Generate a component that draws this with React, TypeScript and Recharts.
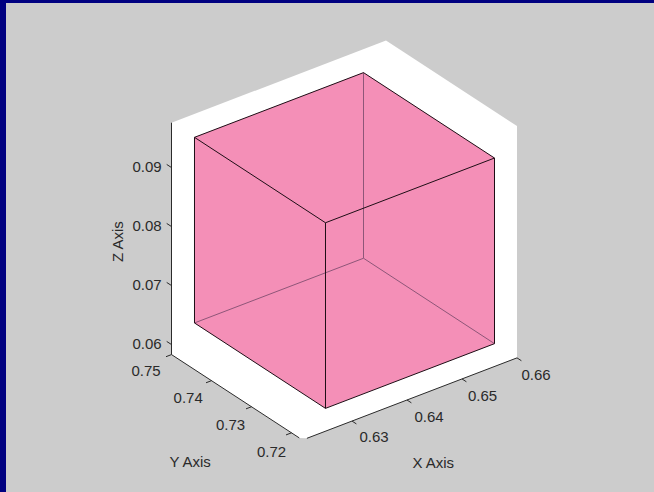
import React from "react";
import { ScatterChart, Scatter, XAxis, YAxis } from "recharts";

// Axis limits and ticks
const xLim = [0.621, 0.66];
const yLim = [0.71725, 0.75];
const zLim = [0.0583, 0.0976];
const xTicks = [0.63, 0.64, 0.65, 0.66];
const yTicks = [0.75, 0.74, 0.73, 0.72];
const zTicks = [0.09, 0.08, 0.07, 0.06];
const cubeX = [0.62518, 0.65591];
const cubeY = [0.71725, 0.75];
const cubeZ = [0.06217, 0.09363];

const W = 654;
const H = 492;
const FONT = "'Liberation Sans', Arial, sans-serif";

type P3 = [number, number, number];

// isometric view of the 3-D data onto the plane of the hidden axes
const project = ([x, y, z]: P3, label?: string) => ({
  px: 302.5 + (x - xLim[0]) * 5500 - (y - yLim[0]) * 4000,
  py: 440 - (x - xLim[0]) * 2106 - (y - yLim[0]) * 2608 - (z - zLim[0]) * 5900,
  label,
});

const [x0, x1] = xLim;
const [y0, y1] = yLim;
const [z0, z1] = zLim;
const [a0, a1] = cubeX;
const [b0, b1] = cubeY;
const [c0, c1] = cubeZ;

const pane: P3[] = [
  [x0 + 0.0008, y0, z0], [x1, y0, z0], [x1, y0, z1], [x1, y1, z1], [x0, y1, z1], [x0, y1, z0], [x0, y0 + 0.0008, z0],
];
const axisLines: P3[][] = [
  [[x0 + 0.0008, y0, z0], [x1, y0, z0]],
  [[x0, y0 + 0.0008, z0], [x0, y1, z0]],
  [[x0, y1, z0], [x0, y1, z1]],
];
const cubeOutline: P3[] = [
  [a0, b0, c0], [a1, b0, c0], [a1, b0, c1], [a1, b1, c1], [a0, b1, c1], [a0, b1, c0],
];
const hiddenEdges: P3[][] = [
  [[a1, b1, c0], [a1, b1, c1]],
  [[a1, b1, c0], [a0, b1, c0]],
  [[a1, b1, c0], [a1, b0, c0]],
];
const visibleEdges: P3[][] = [
  [[a0, b0, c0], [a0, b0, c1]],
  [[a0, b0, c1], [a1, b0, c1]],
  [[a0, b0, c1], [a0, b1, c1]],
  [[a0, b0, c0], [a1, b0, c0]],
  [[a0, b0, c0], [a0, b1, c0]],
  [[a1, b0, c0], [a1, b0, c1]],
  [[a0, b1, c0], [a0, b1, c1]],
  [[a0, b1, c1], [a1, b1, c1]],
  [[a1, b0, c1], [a1, b1, c1]],
];
const tickLines: P3[][] = [
  ...xTicks.map((t): P3[] => [[t, y0, z0], [t, y0 - 0.0011, z0]]),
  ...yTicks.map((t): P3[] => [[x0, t, z0], [x0 - 0.001, t, z0]]),
  ...zTicks.map((t): P3[] => [[x0, y1, t], [x0, y1 + 0.0012, t]]),
];

const fmt = (v: number) => v.toFixed(2);
const noMark = () => <g />;

const polygon = (fill: string) => (props: any) => (
  <path
    d={"M" + props.points.map((p: any) => `${p.x},${p.y}`).join("L") + "Z"}
    fill={fill}
    stroke="none"
  />
);

const textMark = (dx: number[], dy: number[], rotate = 0, size = 15) => (props: any) => {
  const i = props.index ?? 0;
  const x = props.cx + dx[i % dx.length];
  const y = props.cy + dy[i % dy.length];
  return (
    <text
      x={x}
      y={y}
      fill="#2A2A2A"
      fontFamily={FONT}
      fontSize={size}
      textAnchor="middle"
      dominantBaseline="central"
      transform={rotate ? `rotate(${rotate} ${x} ${y})` : undefined}
    >
      {props.payload.label}
    </text>
  );
};

const seg = (pts: P3[], stroke: string, width: number, key: string) => (
  <Scatter
    key={key}
    data={pts.map((p) => project(p))}
    dataKey="py"
    line={{ stroke, strokeWidth: width }}
    lineType="joint"
    shape={noMark}
    isAnimationActive={false}
  />
);

export default function App() {
  return (
    <div style={{ position: "fixed", left: 0, top: 0, width: W, height: H, background: "#000080" }}>
      <div style={{ position: "absolute", left: 6, top: 3, width: W - 6, height: H - 3, background: "#CCCCCC" }} />
      <div style={{ position: "absolute", left: 0, top: 0 }}>
        <ScatterChart width={W} height={H} margin={{ top: 0, right: 0, bottom: 0, left: 0 }}>
          <XAxis type="number" dataKey="px" domain={[0, W]} hide />
          <YAxis type="number" dataKey="py" domain={[0, H]} reversed hide />
          <Scatter
            data={pane.map((p) => project(p))}
            line={polygon("#FFFFFF")}
            shape={noMark}
            isAnimationActive={false}
          />
          <Scatter
            data={cubeOutline.map((p) => project(p))}
            line={polygon("#F48FB7")}
            shape={noMark}
            isAnimationActive={false}
          />
          {hiddenEdges.map((e, i) => seg(e, "#8E5678", 1, "h" + i))}
          {visibleEdges.map((e, i) => seg(e, "#1E0E16", 1, "v" + i))}
          {axisLines.map((e, i) => seg(e, "#2B2B2B", 1, "a" + i))}
          {tickLines.map((e, i) => seg(e, "#2B2B2B", 1, "t" + i))}
          <Scatter
            data={xTicks.map((t) => project([t, y0, z0], fmt(t)))}
            shape={textMark([22, 22, 20.5, 19], [15.5, 17, 17, 16.5])}
            isAnimationActive={false}
          />
          <Scatter
            data={yTicks.map((t) => project([x0, t, z0], fmt(t)))}
            shape={textMark([-25.5, -23.3, -21, -20], [15.5, 16.5, 17.5, 18.5])}
            isAnimationActive={false}
          />
          <Scatter
            data={zTicks.map((t) => project([x0, y1, t], fmt(t)))}
            shape={textMark([-24.5], [-1])}
            isAnimationActive={false}
          />
          <Scatter
            data={[project([(x0 + x1) / 2, y0, z0], "X Axis")]}
            shape={textMark([23.5], [64])}
            isAnimationActive={false}
          />
          <Scatter
            data={[project([x0, (y0 + y1) / 2, z0], "Y Axis")]}
            shape={textMark([-46.9], [64])}
            isAnimationActive={false}
          />
          <Scatter
            data={[project([x0, y1, (z0 + z1) / 2], "Z Axis")]}
            shape={textMark([-53.5], [3], -90)}
            isAnimationActive={false}
          />
        </ScatterChart>
      </div>
    </div>
  );
}
